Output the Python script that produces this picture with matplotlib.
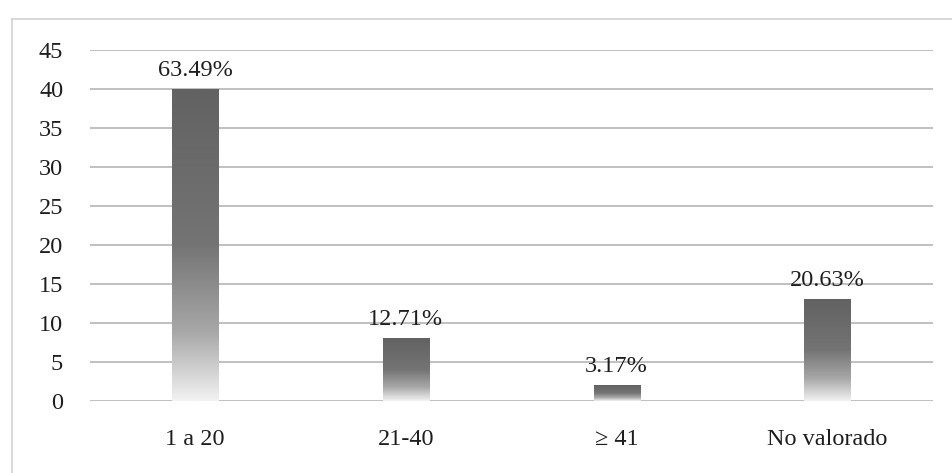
import numpy as np
import matplotlib
matplotlib.use("Agg")
import matplotlib.pyplot as plt
from matplotlib.colors import LinearSegmentedColormap
from matplotlib.lines import Line2D

# categorías y número de casos
categorias = ["1 a 20", "21-40", "\u2265 41", "No valorado"]
casos = [40, 8, 2, 13]
porcentajes = ["63.49%", "12.71%", "3.17%", "20.63%"]
yticks = [0, 5, 10, 15, 20, 25, 30, 35, 40, 45]

plt.rcParams["font.family"] = ["Liberation Serif", "DejaVu Serif"]

fig = plt.figure(figsize=(9.53, 4.73), dpi=100)
ax = fig.add_axes([0.094, 0.152, 0.885, 0.742])

x = np.arange(len(categorias))
ancho = 0.22
barras = ax.bar(x, casos, width=ancho, color="none", edgecolor="none", zorder=3)

# degradado gris oscuro arriba -> blanco abajo
cmap = LinearSegmentedColormap.from_list(
    "gris", [(0.0, "#f2f2f2"), (0.22, "#a8a8a8"), (0.5, "#747474"), (1.0, "#626262")])
grad = np.linspace(0, 1, 256).reshape(-1, 1)
for b in barras:
    x0, w, h = b.get_x(), b.get_width(), b.get_height()
    ax.imshow(grad, cmap=cmap, origin="lower", aspect="auto",
              extent=[x0, x0 + w, 0, h], zorder=3, interpolation="bilinear")

for xi, v, p in zip(x, casos, porcentajes):
    ax.annotate(p, (xi, v), xytext=(0, 6), textcoords="offset points",
                ha="center", va="bottom", fontsize=17.5, color="#1e1e1e")

ax.set_xlim(-0.5, len(categorias) - 0.5)
ax.set_ylim(0, 45)
ax.set_yticks(yticks)
ax.set_xticks(x)
ax.set_xticklabels(categorias)
ax.tick_params(axis="y", length=0, pad=19, labelsize=17.5, labelcolor="#1e1e1e")
ax.tick_params(axis="x", length=0, pad=20, labelsize=17.5, labelcolor="#1e1e1e")
ax.grid(axis="y", color="#c0c0c0", linewidth=1.4, zorder=0)
ax.set_axisbelow(True)
for s in ax.spines.values():
    s.set_visible(False)

# marco del gráfico (bordes superior e izquierdo)
fig.add_artist(Line2D([12 / 953, 1.0], [1 - 19 / 473] * 2, color="#d2d2d2", linewidth=1.2))
fig.add_artist(Line2D([12 / 953] * 2, [0.0, 1 - 19 / 473], color="#d2d2d2", linewidth=1.2))

fig.savefig("out.png", dpi=100)
